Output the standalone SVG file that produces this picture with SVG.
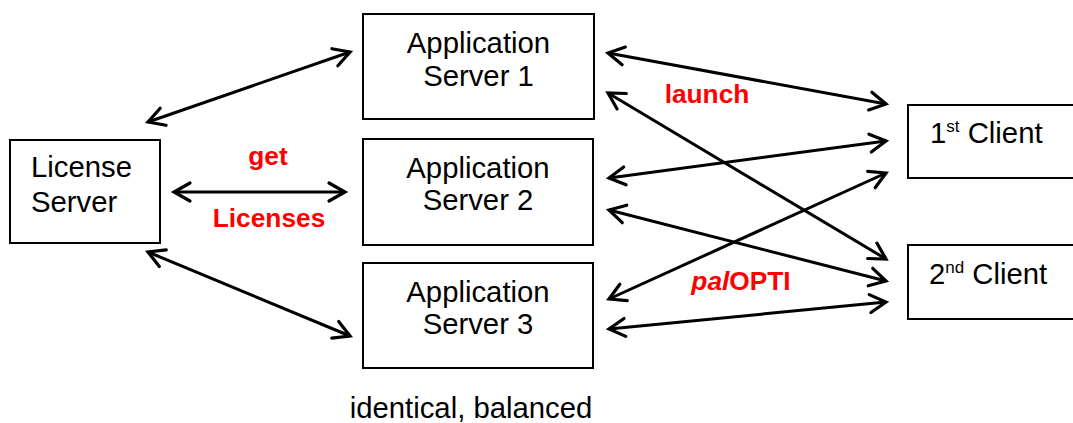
<svg xmlns="http://www.w3.org/2000/svg" width="1073" height="423" viewBox="0 0 1073 423">
<style>
.box{fill:#fff;stroke:#000;stroke-width:2}
.t{font-family:"Liberation Sans",Arial,sans-serif;font-size:29.3px;fill:#000}
.c{text-anchor:middle}
.lab{font-family:"Liberation Sans",Arial,sans-serif;font-size:26.3px;font-weight:bold;fill:#ff0000}
.conn line{stroke:#000;stroke-width:3;marker-start:url(#ah);marker-end:url(#ah)}
</style>
<defs>
<marker id="ah" markerUnits="userSpaceOnUse" viewBox="-20 -12 24 24" refX="0" refY="0" markerWidth="24" markerHeight="24" orient="auto-start-reverse" overflow="visible">
<path d="M-16,-9 L0,0 L-16,9" fill="none" stroke="#000" stroke-width="3.2" stroke-linecap="round" stroke-linejoin="miter"/>
</marker>
</defs>
<rect width="1073" height="423" fill="#fff"/>
<g id="license-server">
<rect class="box" x="10" y="140" width="150" height="103"/>
<text class="t" x="31" y="177">License</text>
<text class="t" x="31" y="212">Server</text>
</g>
<g id="app-server-1">
<rect class="box" x="363" y="14" width="231" height="105"/>
<text class="t c" x="478.5" y="53">Application</text>
<text class="t c" x="478.5" y="86">Server 1</text>
</g>
<g id="app-server-2">
<rect class="box" x="363" y="139" width="230" height="106"/>
<text class="t c" x="478" y="178">Application</text>
<text class="t c" x="478" y="210">Server 2</text>
</g>
<g id="app-server-3">
<rect class="box" x="363" y="263" width="230" height="105"/>
<text class="t c" x="478" y="302">Application</text>
<text class="t c" x="478" y="334">Server 3</text>
</g>
<g id="client-1">
<rect class="box" x="908" y="105" width="175" height="73"/>
<text class="t" x="930" y="143">1<tspan font-size="17" dy="-11">st</tspan><tspan dy="11"> Client</tspan></text>
</g>
<g id="client-2">
<rect class="box" x="908" y="245" width="175" height="74"/>
<text class="t" x="929" y="284">2<tspan font-size="17" dy="-11">nd</tspan><tspan dy="11"> Client</tspan></text>
</g>
<g id="connectors" class="conn">
<line x1="148" y1="122" x2="350" y2="52"/>
<line x1="174" y1="192" x2="345" y2="192"/>
<line x1="148" y1="252" x2="350" y2="336"/>
<line x1="608" y1="53" x2="886" y2="104"/>
<line x1="608" y1="93" x2="886" y2="259"/>
<line x1="609" y1="178" x2="886" y2="141"/>
<line x1="609" y1="210" x2="886" y2="281"/>
<line x1="609" y1="299" x2="886" y2="173"/>
<line x1="609" y1="329" x2="886" y2="302"/>
</g>
<g id="labels">
<text class="lab" x="268" y="165" text-anchor="middle">get</text>
<text class="lab" x="269" y="227" text-anchor="middle">Licenses</text>
<text class="lab" x="707" y="103" text-anchor="middle">launch</text>
<text class="lab" x="741" y="290" text-anchor="middle"><tspan font-style="italic">pal</tspan>OPTI</text>
<text class="t c" x="471" y="418">identical, balanced</text>
</g>
</svg>
